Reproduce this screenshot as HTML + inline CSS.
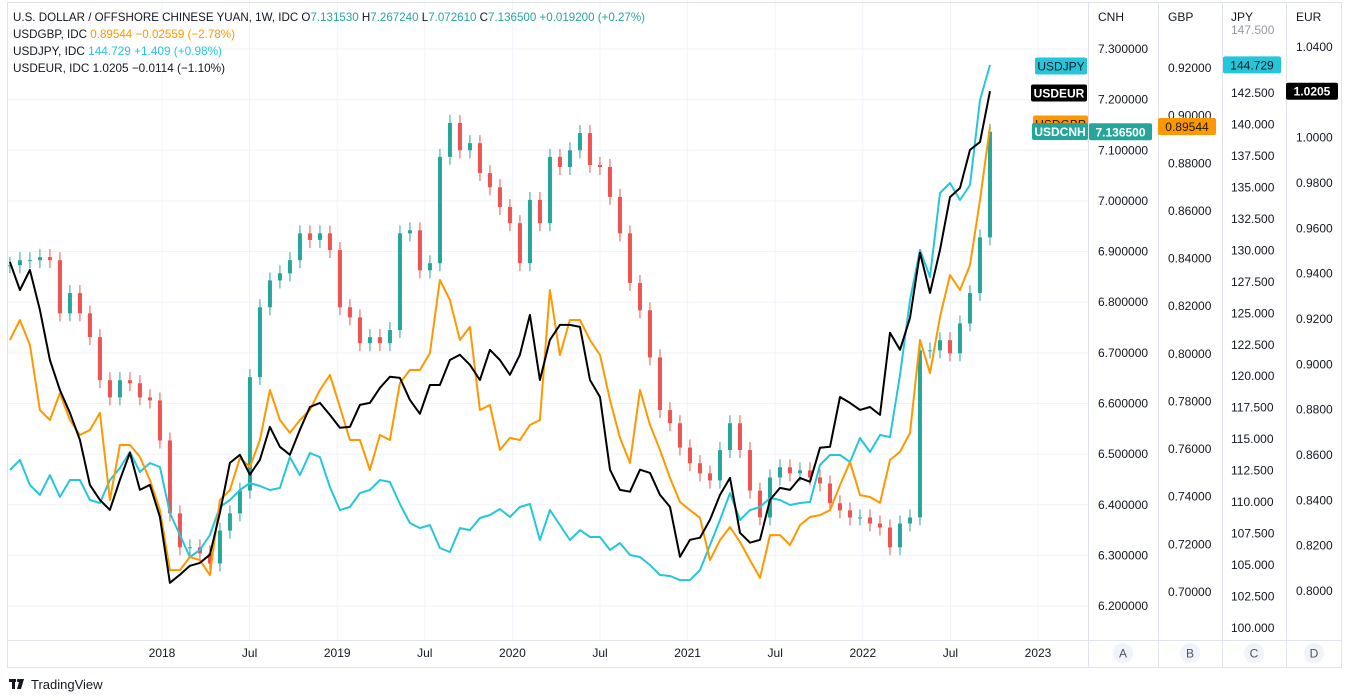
<!DOCTYPE html>
<html>
<head>
<meta charset="utf-8">
<style>
  html,body{margin:0;padding:0;background:#fff;}
  svg{display:block;font-family:"Liberation Sans",sans-serif;}
</style>
</head>
<body>
<svg id="chart" width="1348" height="700" viewBox="0 0 1348 700" xmlns="http://www.w3.org/2000/svg">
  <rect x="0" y="0" width="1348" height="700" fill="#fff"/>
  <g id="grid"></g>
  <g id="series"></g>
  <g id="axes"></g>
  <g id="legend" font-size="12" fill="#131722">
    <text x="13" y="21" textLength="632" lengthAdjust="spacingAndGlyphs">U.S. DOLLAR / OFFSHORE CHINESE YUAN, 1W, IDC <tspan fill="#131722">O</tspan><tspan fill="#26a69a">7.131530 </tspan><tspan>H</tspan><tspan fill="#26a69a">7.267240 </tspan><tspan>L</tspan><tspan fill="#26a69a">7.072610 </tspan><tspan>C</tspan><tspan fill="#26a69a">7.136500 +0.019200 (+0.27%)</tspan></text>
    <text x="13" y="38" textLength="222" lengthAdjust="spacingAndGlyphs">USDGBP, IDC <tspan fill="#ff9800">0.89544 −0.02559 (−2.78%)</tspan></text>
    <text x="13" y="55" textLength="209" lengthAdjust="spacingAndGlyphs">USDJPY, IDC <tspan fill="#26c6da">144.729 +1.409 (+0.98%)</tspan></text>
    <text x="13" y="72" textLength="212" lengthAdjust="spacingAndGlyphs">USDEUR, IDC 1.0205 −0.0114 (−1.10%)</text>
  </g>
  <g id="badges"></g>
  <g>
    <rect x="9" y="679" width="7" height="3" fill="#131722"/>
    <rect x="12" y="679" width="3" height="10" fill="#131722"/>
    <circle cx="18.5" cy="680.5" r="1.6" fill="#131722"/>
    <polygon points="20,679 24,679 21,689 17,689" fill="#131722"/>
    <text x="31" y="689" font-size="13" fill="#131722">TradingView</text>
  </g>
</svg>
<script>
const startYear = 2017.132;
const stepYears = 0.05708;
const cnhClose = [6.873,6.883,6.883,6.889,6.883,6.778,6.818,6.778,6.731,6.646,
6.612,6.646,6.640,6.612,6.606,6.527,6.383,6.316,6.316,6.304,
6.284,6.349,6.383,6.428,6.652,6.790,6.843,6.857,6.883,6.936,
6.923,6.936,6.903,6.790,6.770,6.719,6.731,6.719,6.745,6.936,
6.942,6.863,6.877,7.087,7.154,7.100,7.114,7.055,7.027,6.988,
6.956,6.877,7.002,6.956,7.087,7.067,7.100,7.134,7.071,7.067,
7.008,6.936,6.838,6.784,6.691,6.587,6.561,6.513,6.482,6.462,
6.448,6.508,6.561,6.508,6.428,6.375,6.454,6.474,6.462,6.468,
6.454,6.442,6.403,6.389,6.375,6.375,6.363,6.355,6.316,6.363,
6.375,6.705,6.705,6.725,6.699,6.758,6.818,6.928,7.1365];
const gbpValues = [.8058,.8142,.8037,.7764,.7722,.7835,.7722,.7659,.7680,.7752,
.7386,.7617,.7617,.7567,.7470,.7344,.7092,.7092,.7147,.7134,
.7071,.7386,.7428,.7563,.7525,.7638,.7848,.7722,.7668,.7722,
.7764,.7848,.7911,.7777,.7638,.7638,.7512,.7659,.7638,.7877,
.7932,.7932,.8003,.8310,.8226,.8058,.8113,.7764,.7785,.7596,
.7647,.7638,.7701,.7722,.8268,.7995,.8142,.8142,.8058,.7995,
.7806,.7647,.7542,.7848,.7701,.7596,.7479,.7378,.7344,.7311,
.7134,.7218,.7273,.7210,.7134,.7059,.7239,.7239,.7197,.7281,
.7315,.7323,.7344,.7449,.7546,.7407,.7399,.7374,.7554,.7588,
.7668,.8058,.7919,.8155,.8331,.8268,.8373,.8646,.89544];
const jpyValues = [112.55,113.35,111.36,110.57,112.15,110.41,111.76,111.76,110.17,109.93,
111.76,112.71,113.98,112.39,113.11,112.79,109.14,107.39,105.64,106.20,
107.39,109.61,110.17,110.96,111.52,111.28,110.96,111.12,113.58,112.15,
113.90,113.58,111.20,109.37,109.61,110.72,110.96,111.76,111.60,109.85,
108.34,107.94,108.18,106.36,106.04,107.94,107.78,108.74,108.98,109.45,
108.82,109.61,109.85,106.99,109.37,108.18,106.99,107.78,107.23,107.23,
106.20,106.75,105.80,105.64,105.00,104.21,104.13,103.81,103.81,104.61,
106.59,108.58,110.72,108.58,109.37,109.61,110.33,110.17,109.77,109.93,
110.01,112.95,113.74,113.74,113.19,115.09,113.98,115.33,115.17,120.10,
126.05,130.03,127.88,134.55,135.35,134.00,135.19,141.94,144.729];
const eurValues = [.9452,.9328,.9416,.9240,.9019,.8887,.8786,.8667,.8468,.8402,
.8358,.8490,.8610,.8446,.8468,.8327,.8036,.8072,.8111,.8124,
.8160,.8345,.8565,.8601,.8513,.8579,.8724,.8636,.8601,.8711,
.8812,.8830,.8777,.8720,.8724,.8821,.8830,.8896,.8945,.8940,
.8843,.8782,.8909,.8909,.9019,.9042,.8998,.8931,.9064,.9019,
.8954,.9042,.9218,.8931,.9108,.9174,.9174,.9165,.8931,.8856,
.8535,.8446,.8438,.8535,.8521,.8424,.8371,.8151,.8226,.8235,
.8314,.8424,.8499,.8257,.8213,.8226,.8402,.8455,.8446,.8499,
.8482,.8632,.8636,.8856,.8830,.8799,.8812,.8777,.9139,.9064,
.9205,.9492,.9315,.9505,.9738,.9778,.9946,.9981,1.0205];
const timeTickYears = [2018,2018.5,2019,2019.5,2020,2020.5,2021,2021.5,2022,2022.5,2023];
const timeTickLabels = ["2018","Jul","2019","Jul","2020","Jul","2021","Jul","2022","Jul","2023"];
const cnhTicks = [7.3,7.2,7.1,7.0,6.9,6.8,6.7,6.6,6.5,6.4,6.3,6.2];
const gbpTicks = [0.92,0.90,0.88,0.86,0.84,0.82,0.80,0.78,0.76,0.74,0.72,0.70];
const jpyTicks = [147.5,145,142.5,140,137.5,135,132.5,130,127.5,125,122.5,120,117.5,115,112.5,110,107.5,105,102.5,100];
const eurTicks = [1.04,1.02,1.00,0.98,0.96,0.94,0.92,0.90,0.88,0.86,0.84,0.82,0.80];

const xT = t => 162 + (t - 2018) * 175.2;
const xI = i => xT(startYear + i * stepYears);
const yCNH = v => 49 + (7.3 - v) * 506.4;
const yGBP = v => 68 + (0.92 - v) * 2381.8;
const yJPY = v => 30 + (147.5 - v) * 12.59;
const yEUR = v => 47 + (1.04 - v) * 2266.7;

const NS = "http://www.w3.org/2000/svg";
function mk(tag, attrs, parent){
  const e = document.createElementNS(NS, tag);
  for (const k in attrs) e.setAttribute(k, attrs[k]);
  parent.appendChild(e);
  return e;
}
const grid = document.getElementById('grid');
const series = document.getElementById('series');
const axes = document.getElementById('axes');
const badges = document.getElementById('badges');

cnhTicks.forEach(v => {
  const l = mk('line', {x1:8, x2:1088, y1:yCNH(v), y2:yCNH(v), stroke:'#f0f3fa', 'stroke-width':1}, grid);
  
  
});
timeTickYears.forEach(t => {
  const l = mk('line', {x1:xT(t), x2:xT(t), y1:0, y2:640, stroke:'#f0f3fa', 'stroke-width':1}, grid);
  
  
});

cnhClose.forEach((c, i) => {
  const o = i === 0 ? c : cnhClose[i-1];
  const up = c >= o;
  const col = up ? '#26a69a' : '#ef5350';
  const x = xI(i);
  const yTop = Math.min(yCNH(o), yCNH(c));
  const yBot = Math.max(yCNH(o), yCNH(c));
  const g = mk('g', {}, series);
  
  
  const w = mk('line', {x1:x, x2:x, y1:yTop-8, y2:yBot+8, stroke:col, 'stroke-width':1}, g);
  
  
  const b = mk('rect', {x:x-2, y:yTop, width:4, height:Math.max(1, yBot-yTop), fill:col}, g);
  
  
});

function drawLine(vals, yf, color, name){
  const pts = vals.map((v,i) => xI(i).toFixed(1) + ',' + yf(v).toFixed(1)).join(' ');
  const p = mk('polyline', {points:pts, fill:'none', stroke:color, 'stroke-width':2, 'stroke-linejoin':'round'}, series);
  
  
}
drawLine(jpyValues, yJPY, '#26c6da', 'usdjpy-line');
drawLine(gbpValues, yGBP, '#ff9800', 'usdgbp-line');
drawLine(eurValues, yEUR, '#000000', 'usdeur-line');

[
  ['rect', {x:7.5, y:2.5, width:1334, height:665, fill:'none', stroke:'#e0e3eb'}, 'chart-frame'],
  ['line', {x1:8, x2:1341, y1:640.5, y2:640.5, stroke:'#e0e3eb'}, 'time-axis-border'],
  ['line', {x1:1088.5, x2:1088.5, y1:2, y2:667, stroke:'#e0e3eb'}, 'cnh-axis-border'],
  ['line', {x1:1158.5, x2:1158.5, y1:2, y2:667, stroke:'#e0e3eb'}, 'gbp-axis-border'],
  ['line', {x1:1222.5, x2:1222.5, y1:2, y2:667, stroke:'#e0e3eb'}, 'jpy-axis-border'],
  ['line', {x1:1286.5, x2:1286.5, y1:2, y2:667, stroke:'#e0e3eb'}, 'eur-axis-border']
].forEach(([t,a,n]) => {
  const e = mk(t, a, axes);
  
  
});

function txt(x, y, s, attrs, name, inter){
  const t = mk('text', Object.assign({x:x, y:y, 'font-size':12, fill:'#131722'}, attrs||{}), axes);
  t.textContent = s;
  
  
  return t;
}
timeTickYears.forEach((t, k) => {
  txt(xT(t), 657, timeTickLabels[k], {'text-anchor':'middle'}, 'time-tick-label', false);
});
txt(1098, 21, 'CNH', {}, 'cnh-axis-title', false);
txt(1168, 21, 'GBP', {}, 'gbp-axis-title', false);
txt(1231, 21, 'JPY', {}, 'jpy-axis-title', false);
txt(1296, 21, 'EUR', {}, 'eur-axis-title', false);
cnhTicks.forEach(v => txt(1098, yCNH(v)+4, v.toFixed(6), {}, 'cnh-tick-label', false));
gbpTicks.forEach(v => txt(1168, yGBP(v)+4, v.toFixed(5), {}, 'gbp-tick-label', false));
jpyTicks.forEach((v,k) => txt(1231, yJPY(v)+4, v.toFixed(3), k===0?{fill:'#9598a1'}:{}, 'jpy-tick-label', false));
eurTicks.forEach(v => txt(1296, yEUR(v)+4, v.toFixed(4), {}, 'eur-tick-label', false));

['A','B','C','D'].forEach((s, k) => {
  const cx = [1123, 1190, 1254, 1314][k];
  const c = mk('circle', {cx:cx, cy:653, r:10, fill:'#f0f3fa'}, axes);
  
  
  txt(cx, 657.5, s, {'text-anchor':'middle', fill:'#50535e'}, 'scale-button-label', true);
});

function badge(x, w, yc, bg, fg, label, name, bold){
  const g = mk('g', {}, badges);
  
  
  const r = mk('rect', {x:x, y:yc-8.5, width:w, height:17, rx:2, fill:bg}, g);
  
  
  const t = mk('text', {x:x+w/2, y:yc+4.5, 'font-size':12, fill:fg, 'text-anchor':'middle', 'font-weight':bold?'bold':'normal'}, g);
  t.textContent = label;
  
  
}
const lastJ = jpyValues[jpyValues.length-1], lastE = eurValues[eurValues.length-1];
const lastG = gbpValues[gbpValues.length-1], lastC = cnhClose[cnhClose.length-1];
badge(1035, 52, 66, '#26c6da', '#131722', 'USDJPY', 'usdjpy-series-badge', false);
badge(1223, 58, yJPY(lastJ), '#26c6da', '#131722', lastJ.toFixed(3), 'usdjpy-price-badge', false);
badge(1031, 56, 93, '#000000', '#ffffff', 'USDEUR', 'usdeur-series-badge', true);
badge(1286, 52, yEUR(lastE), '#000000', '#ffffff', lastE.toFixed(4), 'usdeur-price-badge', true);
badge(1033, 55, 124, '#ff9800', '#131722', 'USDGBP', 'usdgbp-series-badge', false);
badge(1158, 58, yGBP(lastG), '#ff9800', '#131722', lastG.toFixed(5), 'usdgbp-price-badge', false);
badge(1032, 56, 131.5, '#26a69a', '#ffffff', 'USDCNH', 'usdcnh-series-badge', true);
badge(1089, 63, yCNH(lastC), '#26a69a', '#ffffff', lastC.toFixed(6), 'usdcnh-price-badge', true);
</script>
</body>
</html>
